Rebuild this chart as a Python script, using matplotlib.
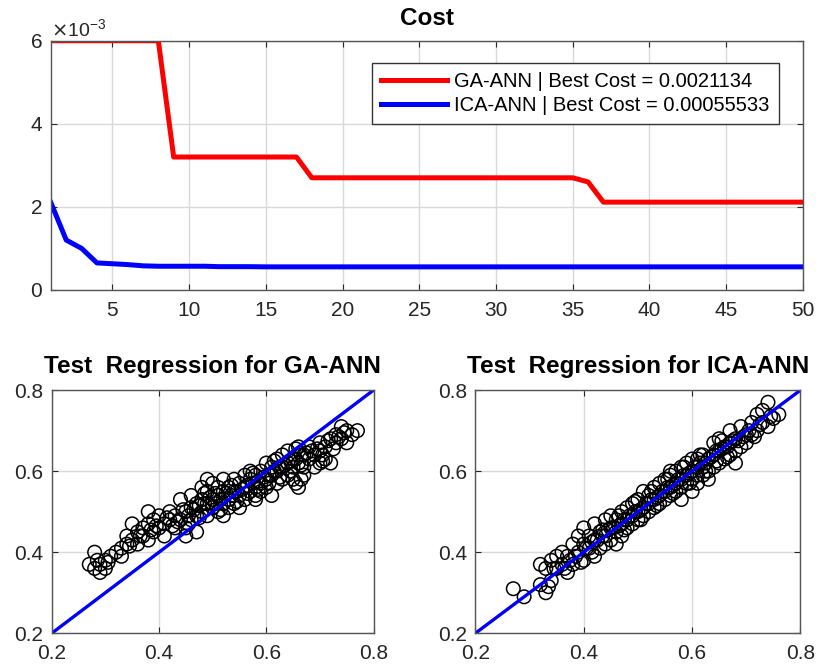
import matplotlib
matplotlib.use("Agg")
import matplotlib.pyplot as plt
from matplotlib.ticker import ScalarFormatter

plt.rcParams['font.family'] = ['Liberation Sans', 'DejaVu Sans']

# cost curves (50 iterations)
iters = list(range(1, 51))
ga_cost = [0.0060] * 8 + [0.0032] * 9 + [0.0027] * 18 + [0.0026] + [0.0021134] * 14
ica_cost = [0.00210, 0.00120, 0.00100, 0.00065, 0.00063, 0.00061, 0.00058, 0.00057,
            0.00057, 0.00057, 0.00057, 0.00056, 0.00056, 0.00056] + [0.00055533] * 36

# test regression, GA-ANN (target, output)
ga_x = [0.27, 0.28, 0.28, 0.29, 0.29, 0.30, 0.30, 0.31, 0.32, 0.33, 0.33, 0.34, 0.34, 0.35, 0.35,
        0.36, 0.36, 0.37, 0.37, 0.38, 0.38, 0.38, 0.39, 0.39, 0.40, 0.40, 0.41, 0.41, 0.42, 0.42,
        0.43, 0.43, 0.44, 0.44, 0.45, 0.45, 0.46, 0.46, 0.46, 0.47, 0.47, 0.47, 0.48, 0.48, 0.48,
        0.49, 0.49, 0.49, 0.50, 0.50, 0.50, 0.51, 0.51, 0.51, 0.52, 0.52, 0.52, 0.53, 0.53, 0.53,
        0.54, 0.54, 0.54, 0.55, 0.55, 0.55, 0.56, 0.56, 0.56, 0.57, 0.57, 0.57, 0.58, 0.58, 0.58,
        0.59, 0.59, 0.59, 0.60, 0.60, 0.60, 0.61, 0.61, 0.61, 0.62, 0.62, 0.62, 0.63, 0.63, 0.63,
        0.64, 0.64, 0.64, 0.65, 0.65, 0.65, 0.66, 0.66, 0.66, 0.67, 0.67, 0.67, 0.68, 0.68, 0.69,
        0.69, 0.70, 0.70, 0.71, 0.71, 0.72, 0.72, 0.73, 0.73, 0.74, 0.74, 0.75, 0.75, 0.77,
        0.52, 0.58, 0.45, 0.70, 0.49]
ga_y = [0.37, 0.40, 0.36, 0.37, 0.35, 0.38, 0.36, 0.39, 0.40, 0.39, 0.41, 0.44, 0.42, 0.43, 0.47,
        0.45, 0.42, 0.46, 0.44, 0.50, 0.47, 0.43, 0.45, 0.48, 0.46, 0.49, 0.47, 0.44, 0.48, 0.50,
        0.46, 0.49, 0.53, 0.48, 0.50, 0.46, 0.51, 0.48, 0.54, 0.52, 0.49, 0.45, 0.53, 0.50, 0.56,
        0.52, 0.49, 0.55, 0.53, 0.51, 0.57, 0.54, 0.50, 0.56, 0.52, 0.55, 0.58, 0.53, 0.51, 0.56,
        0.55, 0.52, 0.58, 0.54, 0.57, 0.51, 0.56, 0.59, 0.53, 0.55, 0.58, 0.60, 0.56, 0.54, 0.59,
        0.57, 0.60, 0.55, 0.58, 0.62, 0.56, 0.59, 0.61, 0.54, 0.60, 0.57, 0.63, 0.61, 0.58, 0.64,
        0.62, 0.59, 0.65, 0.61, 0.63, 0.58, 0.62, 0.66, 0.56, 0.64, 0.61, 0.59, 0.63, 0.66, 0.64,
        0.61, 0.65, 0.67, 0.63, 0.66, 0.62, 0.68, 0.67, 0.69, 0.68, 0.71, 0.70, 0.67, 0.70,
        0.49, 0.53, 0.44, 0.62, 0.58]
# denser core of the GA-ANN cloud
ga_x2 = [0.455, 0.465, 0.475, 0.485, 0.495, 0.505, 0.515, 0.525, 0.535, 0.545, 0.555, 0.565,
         0.575, 0.585, 0.595, 0.605, 0.615, 0.625, 0.635, 0.645, 0.655, 0.665, 0.675, 0.685,
         0.695, 0.505, 0.515, 0.535, 0.545, 0.565, 0.575, 0.585, 0.605, 0.615, 0.625, 0.645,
         0.655, 0.665, 0.485, 0.475, 0.435, 0.425, 0.415, 0.395, 0.385, 0.445, 0.455, 0.705,
         0.715, 0.725, 0.735, 0.745, 0.760, 0.655, 0.665, 0.705, 0.305, 0.285, 0.345, 0.365]
ga_y2 = [0.490, 0.505, 0.515, 0.520, 0.535, 0.520, 0.530, 0.545, 0.540, 0.550, 0.555, 0.565,
         0.570, 0.575, 0.585, 0.590, 0.600, 0.610, 0.615, 0.625, 0.630, 0.640, 0.645, 0.650,
         0.655, 0.545, 0.505, 0.565, 0.525, 0.545, 0.595, 0.555, 0.570, 0.625, 0.585, 0.600,
         0.655, 0.615, 0.545, 0.485, 0.475, 0.465, 0.485, 0.465, 0.455, 0.505, 0.470, 0.640,
         0.675, 0.655, 0.685, 0.695, 0.690, 0.570, 0.580, 0.625, 0.375, 0.380, 0.415, 0.440]

# test regression, ICA-ANN (target, output)
ica_x = [0.27, 0.29, 0.32, 0.32, 0.33, 0.33, 0.34, 0.34, 0.35, 0.35, 0.36, 0.36, 0.37, 0.37, 0.38,
         0.38, 0.39, 0.39, 0.40, 0.40, 0.40, 0.41, 0.41, 0.42, 0.42, 0.42, 0.43, 0.43, 0.44, 0.44,
         0.44, 0.45, 0.45, 0.45, 0.46, 0.46, 0.46, 0.47, 0.47, 0.47, 0.48, 0.48, 0.48, 0.49, 0.49,
         0.49, 0.50, 0.50, 0.50, 0.51, 0.51, 0.51, 0.52, 0.52, 0.52, 0.53, 0.53, 0.53, 0.54, 0.54,
         0.54, 0.55, 0.55, 0.55, 0.56, 0.56, 0.56, 0.57, 0.57, 0.57, 0.58, 0.58, 0.58, 0.59, 0.59,
         0.59, 0.60, 0.60, 0.60, 0.61, 0.61, 0.61, 0.62, 0.62, 0.62, 0.63, 0.63, 0.63, 0.64, 0.64,
         0.64, 0.65, 0.65, 0.65, 0.66, 0.66, 0.67, 0.67, 0.67, 0.68, 0.68, 0.69, 0.69, 0.70, 0.70,
         0.71, 0.71, 0.72, 0.72, 0.73, 0.73, 0.74, 0.74, 0.75, 0.76, 0.61, 0.58]
ica_y = [0.31, 0.29, 0.37, 0.32, 0.30, 0.36, 0.33, 0.38, 0.36, 0.39, 0.37, 0.40, 0.35, 0.39, 0.42,
         0.37, 0.40, 0.44, 0.38, 0.42, 0.46, 0.41, 0.44, 0.43, 0.39, 0.47, 0.45, 0.41, 0.44, 0.48,
         0.42, 0.46, 0.43, 0.49, 0.45, 0.48, 0.42, 0.47, 0.50, 0.44, 0.48, 0.46, 0.51, 0.49, 0.47,
         0.52, 0.50, 0.48, 0.53, 0.51, 0.49, 0.55, 0.52, 0.50, 0.54, 0.53, 0.51, 0.56, 0.54, 0.52,
         0.57, 0.55, 0.53, 0.58, 0.56, 0.54, 0.59, 0.57, 0.55, 0.60, 0.58, 0.56, 0.61, 0.59, 0.57,
         0.62, 0.60, 0.58, 0.55, 0.61, 0.59, 0.63, 0.61, 0.59, 0.64, 0.63, 0.60, 0.58, 0.64, 0.61,
         0.67, 0.65, 0.62, 0.68, 0.66, 0.63, 0.67, 0.64, 0.70, 0.65, 0.68, 0.71, 0.66, 0.69, 0.67,
         0.72, 0.69, 0.70, 0.74, 0.72, 0.75, 0.77, 0.71, 0.73, 0.74, 0.57, 0.53]
# denser core of the ICA-ANN cloud
ica_x2 = [0.405, 0.415, 0.425, 0.435, 0.445, 0.455, 0.465, 0.475, 0.485, 0.495, 0.505, 0.515,
          0.525, 0.535, 0.545, 0.555, 0.565, 0.575, 0.585, 0.595, 0.605, 0.615, 0.625, 0.635,
          0.645, 0.655, 0.665, 0.675, 0.685, 0.695, 0.465, 0.475, 0.495, 0.505, 0.525, 0.535,
          0.555, 0.565, 0.585, 0.595, 0.615, 0.625, 0.645, 0.655, 0.665, 0.385, 0.375, 0.365,
          0.395, 0.415, 0.435, 0.335, 0.345, 0.705, 0.715, 0.725, 0.745, 0.680, 0.600, 0.560]
ica_y2 = [0.410, 0.425, 0.430, 0.440, 0.455, 0.460, 0.465, 0.480, 0.490, 0.500, 0.505, 0.520,
          0.530, 0.535, 0.550, 0.560, 0.565, 0.580, 0.590, 0.595, 0.610, 0.620, 0.620, 0.635,
          0.650, 0.655, 0.660, 0.675, 0.675, 0.685, 0.490, 0.455, 0.525, 0.480, 0.550, 0.515,
          0.580, 0.545, 0.610, 0.570, 0.640, 0.600, 0.625, 0.675, 0.635, 0.390, 0.380, 0.360,
          0.375, 0.400, 0.455, 0.315, 0.360, 0.700, 0.685, 0.715, 0.735, 0.620, 0.630, 0.600]

tick_col = '#262626'
grid_col = '#d9d9d9'


def style(ax):
    ax.grid(True, color=grid_col, linewidth=1)
    ax.set_axisbelow(True)
    ax.tick_params(direction='in', top=True, right=True, labelsize=15,
                   colors=tick_col, length=4)
    ax.tick_params(axis='x', pad=8)
    ax.tick_params(axis='y', pad=6)
    for s in ax.spines.values():
        s.set_color('#555555')
        s.set_linewidth(1)


fig = plt.figure(figsize=(8.21, 6.68), dpi=100)

ax = fig.add_axes([0.062, 0.566, 0.916, 0.373])
ax.plot(iters, ga_cost, color='#ff0000', linewidth=3.6,
        label='GA-ANN | Best Cost = 0.0021134')
ax.plot(iters, ica_cost, color='#0000ff', linewidth=3.6,
        label='ICA-ANN | Best Cost = 0.00055533')
ax.set_xlim(1, 50)
ax.set_ylim(0, 0.006)
ax.set_xticks(range(5, 51, 5))
ax.set_yticks([0, 0.002, 0.004, 0.006])
fmt = ScalarFormatter(useMathText=True)
fmt.set_powerlimits((-3, -3))
ax.yaxis.set_major_formatter(fmt)
style(ax)
ax.yaxis.get_offset_text().set_fontsize(14)
ax.yaxis.get_offset_text().set_color(tick_col)
ax.set_title('Cost', fontsize=17.5, fontweight='bold', pad=11)
leg = ax.legend(loc='upper right', fontsize=14.5, fancybox=False, framealpha=1,
                edgecolor='#333333', handlelength=3.3, handletextpad=0.35,
                borderpad=0.45, labelspacing=0.25,
                bbox_to_anchor=(0.981, 0.951))
leg.get_frame().set_linewidth(1)

panels = [
    ([0.063, 0.052, 0.392, 0.364], ga_x + ga_x2, ga_y + ga_y2, 'Test  Regression for GA-ANN'),
    ([0.579, 0.052, 0.396, 0.364], ica_x + ica_x2, ica_y + ica_y2, 'Test  Regression for ICA-ANN'),
]
for rect, xs, ys, ttl in panels:
    a = fig.add_axes(rect)
    a.scatter(xs, ys, s=95, facecolors='none', edgecolors='black', linewidths=1.1)
    a.plot([0.2, 0.8], [0.2, 0.8], color='#0000ff', linewidth=2.4)
    a.set_xlim(0.2, 0.8)
    a.set_ylim(0.2, 0.8)
    a.set_xticks([0.2, 0.4, 0.6, 0.8])
    a.set_yticks([0.2, 0.4, 0.6, 0.8])
    style(a)
    a.set_title(ttl, fontsize=17.5, fontweight='bold', pad=12)

fig.savefig('out.png', dpi=100)
